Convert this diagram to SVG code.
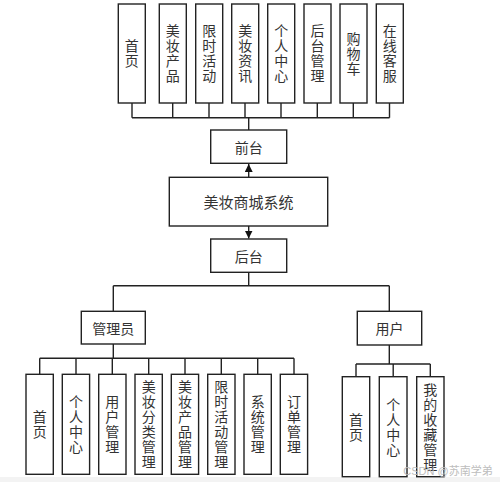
<svg xmlns="http://www.w3.org/2000/svg" width="500" height="482" viewBox="0 0 500 482">
<style>
.box{fill:#fff;stroke:#222;stroke-width:1.4}
.ln{fill:none;stroke:#222;stroke-width:1.4}
text{font-family:"Noto Sans CJK SC","Noto Sans",sans-serif;fill:#333;font-size:14px;text-anchor:middle;dominant-baseline:central}
.v{writing-mode:vertical-rl;text-orientation:upright;letter-spacing:1px}
.big{font-size:15px}
.wm{font-size:11px;fill:#bdbdbd;font-family:"Liberation Sans","Noto Sans CJK SC",sans-serif}
</style>
<defs>
<marker id="ah" viewBox="0 0 10 10" refX="10" refY="5" markerWidth="8" markerHeight="8" markerUnits="userSpaceOnUse" orient="auto">
<path d="M0,0 L10,5 L0,10 Z" fill="#111"/>
</marker>
</defs>
<rect x="0" y="477" width="500" height="5" fill="#f3f3f3"/>
<g id="connectors">
<path class="ln" d="M132,103V117.7M172.7,103V117.7M209,103V117.7M245,103V117.7M281,103V117.7M317.3,103V117.7M353.3,103V117.7M389.5,103V117.7M132,117.7H389.5M248.7,117.7V130"/>
<path class="ln" d="M248.7,177.3V164" marker-end="url(#ah)"/>
<path class="ln" d="M248.7,226V238.5" marker-end="url(#ah)"/>
<path class="ln" d="M248.7,272.3V285.7M113.3,285.7H389.3M113.3,285.7V311.3M389.3,285.7V311.3"/>
<path class="ln" d="M113.3,344V358.3M39.7,358.3H294M39.7,358.3V374M76,358.3V374M112.3,358.3V374M148.7,358.3V374M185,358.3V374M221.3,358.3V374M257.7,358.3V374M294,358.3V374"/>
<path class="ln" d="M389.3,345V364M356,364H430.3M356,364V376.7M393.2,364V376.7M430.3,364V376.7"/>
</g>
<g id="top-1"><rect class="box" x="118.3" y="4" width="27" height="99"/><text class="v" x="131.8" y="54">首页</text></g>
<g id="top-2"><rect class="box" x="159.3" y="4" width="27" height="99"/><text class="v" x="172.8" y="54">美妆产品</text></g>
<g id="top-3"><rect class="box" x="195.7" y="4" width="27" height="99"/><text class="v" x="209.2" y="54">限时活动</text></g>
<g id="top-4"><rect class="box" x="231.7" y="4" width="27" height="99"/><text class="v" x="245.2" y="54">美妆资讯</text></g>
<g id="top-5"><rect class="box" x="267.7" y="4" width="27" height="99"/><text class="v" x="281.2" y="54">个人中心</text></g>
<g id="top-6"><rect class="box" x="304" y="4" width="27" height="99"/><text class="v" x="317.5" y="54">后台管理</text></g>
<g id="top-7"><rect class="box" x="340" y="4" width="27" height="99"/><text class="v" x="353.5" y="54">购物车</text></g>
<g id="top-8"><rect class="box" x="376.3" y="4" width="27" height="99"/><text class="v" x="389.8" y="54">在线客服</text></g>
<g id="qiantai"><rect class="box" x="210.7" y="130" width="76" height="33.3"/><text x="248.7" y="146.7">前台</text></g>
<g id="system"><rect class="box" x="169.3" y="177.3" width="158.4" height="48.7"/><text class="big" x="248.5" y="201.6">美妆商城系统</text></g>
<g id="houtai"><rect class="box" x="210.7" y="239" width="76" height="33.3"/><text x="248.7" y="255.7">后台</text></g>
<g id="admin"><rect class="box" x="81.3" y="311.3" width="64" height="32.7"/><text x="113.3" y="327.7">管理员</text></g>
<g id="user"><rect class="box" x="357.3" y="311.3" width="64.4" height="33.7"/><text x="389.5" y="328.2">用户</text></g>
<g id="a-1"><rect class="box" x="26" y="374.3" width="27.3" height="100"/><text class="v" x="39.7" y="424.8">首页</text></g>
<g id="a-2"><rect class="box" x="62.3" y="374.3" width="27.3" height="100"/><text class="v" x="76" y="424.8">个人中心</text></g>
<g id="a-3"><rect class="box" x="98.7" y="374.3" width="27.3" height="100"/><text class="v" x="112.3" y="424.8">用户管理</text></g>
<g id="a-4"><rect class="box" x="135" y="374.3" width="27.3" height="100"/><text class="v" x="148.7" y="424.8">美妆分类管理</text></g>
<g id="a-5"><rect class="box" x="171.3" y="374.3" width="27.3" height="100"/><text class="v" x="185" y="424.8">美妆产品管理</text></g>
<g id="a-6"><rect class="box" x="207.7" y="374.3" width="27.3" height="100"/><text class="v" x="221.3" y="424.8">限时活动管理</text></g>
<g id="a-7"><rect class="box" x="244" y="374.3" width="27.3" height="100"/><text class="v" x="257.7" y="424.8">系统管理</text></g>
<g id="a-8"><rect class="box" x="280.3" y="374.3" width="27.3" height="100"/><text class="v" x="294" y="424.8">订单管理</text></g>
<g id="u-1"><rect class="box" x="342.3" y="376.7" width="27.4" height="100"/><text class="v" x="356" y="427.2">首页</text></g>
<g id="u-2"><rect class="box" x="379.3" y="376.7" width="27.7" height="100"/><text class="v" x="393.2" y="427.2">个人中心</text></g>
<g id="u-3"><rect class="box" x="416.7" y="376.7" width="27.3" height="100"/><text class="v" x="430.3" y="427.2">我的收藏管理</text></g>
<text class="wm" x="448" y="471">CSDN @苏南学弟</text>
</svg>
